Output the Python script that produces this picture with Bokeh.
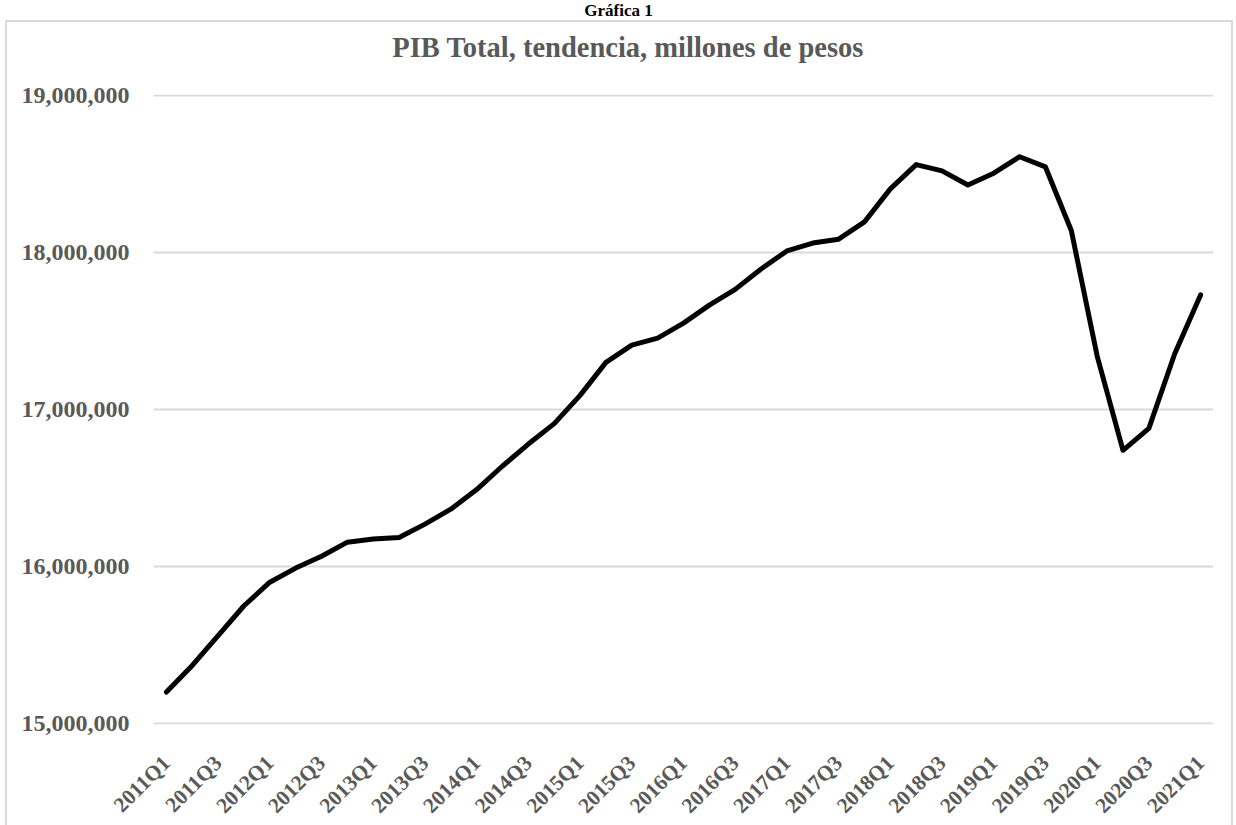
import math
from bokeh.plotting import figure
from bokeh.layouts import column
from bokeh.models import Range1d, FixedTicker, NumeralTickFormatter
from bokeh.core.properties import value
from bokeh.embed import file_html
from bokeh.resources import INLINE

quarters = [f"{y}Q{q}" for y in range(2011, 2021) for q in (1, 2, 3, 4)] + ["2021Q1"]
pib = [
    15200000, 15370000, 15560000, 15750000,
    15900000, 15990000, 16065000, 16155000,
    16175000, 16185000, 16270000, 16365000,
    16490000, 16640000, 16780000, 16910000,
    17090000, 17300000, 17410000, 17455000,
    17550000, 17665000, 17765000, 17895000,
    18010000, 18060000, 18085000, 18195000,
    18405000, 18560000, 18520000, 18430000,
    18505000, 18610000, 18545000, 18140000,
    17340000, 16740000, 16880000, 17355000,
    17730000,
]
y_ticks = [15000000, 16000000, 17000000, 18000000, 19000000]
title_text = "PIB Total, tendencia, millones de pesos"
top_text = "Gráfica 1"

FONT = "Liberation Serif"
GRAY = "#595959"
BORDER = "#d9d9d9"

TOTAL_W, TOTAL_H = 1236, 825
HEAD_H = 20
TITLE_H = 50
LEFT_GAP = 5
INNER_W = 1224

def blank_fig(w, h):
    f = figure(width=w, height=h, output_backend="svg", toolbar_location=None,
               x_range=Range1d(0, w), y_range=Range1d(0, h),
               min_border=0, min_border_left=0, min_border_right=0,
               min_border_top=0, min_border_bottom=0)
    f.axis.visible = False
    f.grid.grid_line_color = None
    f.outline_line_color = None
    f.background_fill_color = "white"
    f.border_fill_color = "white"
    return f

# header "Gráfica 1"
head = blank_fig(TOTAL_W, HEAD_H)
head.text(x=[618], y=[HEAD_H / 2], text=[top_text], text_font=value(FONT),
          text_font_style="bold", text_font_size="17px", text_color="black",
          text_align="center", text_baseline="middle")

# chart title
tfig = blank_fig(INNER_W, TITLE_H)
tfig.text(x=[548], y=[TITLE_H - 25], text=[title_text], text_font=value(FONT),
          text_font_style="bold", text_font_size="28.5px", text_color=GRAY,
          text_align="center", text_baseline="middle")

# main chart (its empty bottom strip runs past the window and is clipped)
FL, FR, FT, FB = 146, 18, 22, 108
FH = 630
MAIN_H = FT + FH + FB
n = len(quarters)
xs = list(range(n))
y0, y1 = y_ticks[0], y_ticks[-1]
pad = (y1 - y0) * 1.0 / (FH - 2)

p = figure(width=INNER_W, height=MAIN_H, output_backend="svg", toolbar_location=None,
           x_range=Range1d(-0.5, n - 0.5), y_range=Range1d(y0 - pad, y1 + pad),
           min_border_left=FL, min_border_right=FR, min_border_top=FT, min_border_bottom=FB)
p.outline_line_color = None
p.background_fill_color = "white"
p.border_fill_color = "white"

p.line(xs, pib, line_color="black", line_width=5, line_join="round", line_cap="round")

p.yaxis.ticker = FixedTicker(ticks=y_ticks)
p.yaxis.formatter = NumeralTickFormatter(format="0,0")
p.yaxis.axis_line_color = None
p.yaxis.major_tick_line_color = None
p.yaxis.minor_tick_line_color = None
p.yaxis.major_tick_out = 0
p.yaxis.major_tick_in = 0
p.yaxis.major_label_standoff = 24
p.yaxis.major_label_text_font = FONT
p.yaxis.major_label_text_font_style = "bold"
p.yaxis.major_label_text_font_size = "24px"
p.yaxis.major_label_text_color = GRAY

p.xaxis.ticker = FixedTicker(ticks=xs[::2])
p.xaxis.major_label_overrides = {i: quarters[i] for i in xs[::2]}
p.xaxis.major_label_orientation = math.pi / 4
p.xaxis.axis_line_color = None
p.xaxis.major_tick_line_color = None
p.xaxis.minor_tick_line_color = None
p.xaxis.major_tick_out = 0
p.xaxis.major_tick_in = 0
p.xaxis.major_label_standoff = 35
p.xaxis.major_label_text_font = FONT
p.xaxis.major_label_text_font_style = "bold"
p.xaxis.major_label_text_font_size = "21.5px"
p.xaxis.major_label_text_color = GRAY

p.xgrid.grid_line_color = None
p.ygrid.ticker = FixedTicker(ticks=y_ticks)
p.ygrid.grid_line_color = BORDER
p.ygrid.grid_line_width = 2

inner = column(tfig, p, spacing=0,
               styles={"margin-left": f"{LEFT_GAP}px",
                       "border-top": f"2px solid {BORDER}",
                       "border-left": f"2px solid {BORDER}",
                       "border-right": f"2px solid {BORDER}"})
layout = column(head, inner, spacing=0, width=TOTAL_W, height=TOTAL_H,
                styles={"overflow": "hidden", "height": f"{TOTAL_H}px"})

open("out.html", "w").write(file_html(layout, INLINE))
